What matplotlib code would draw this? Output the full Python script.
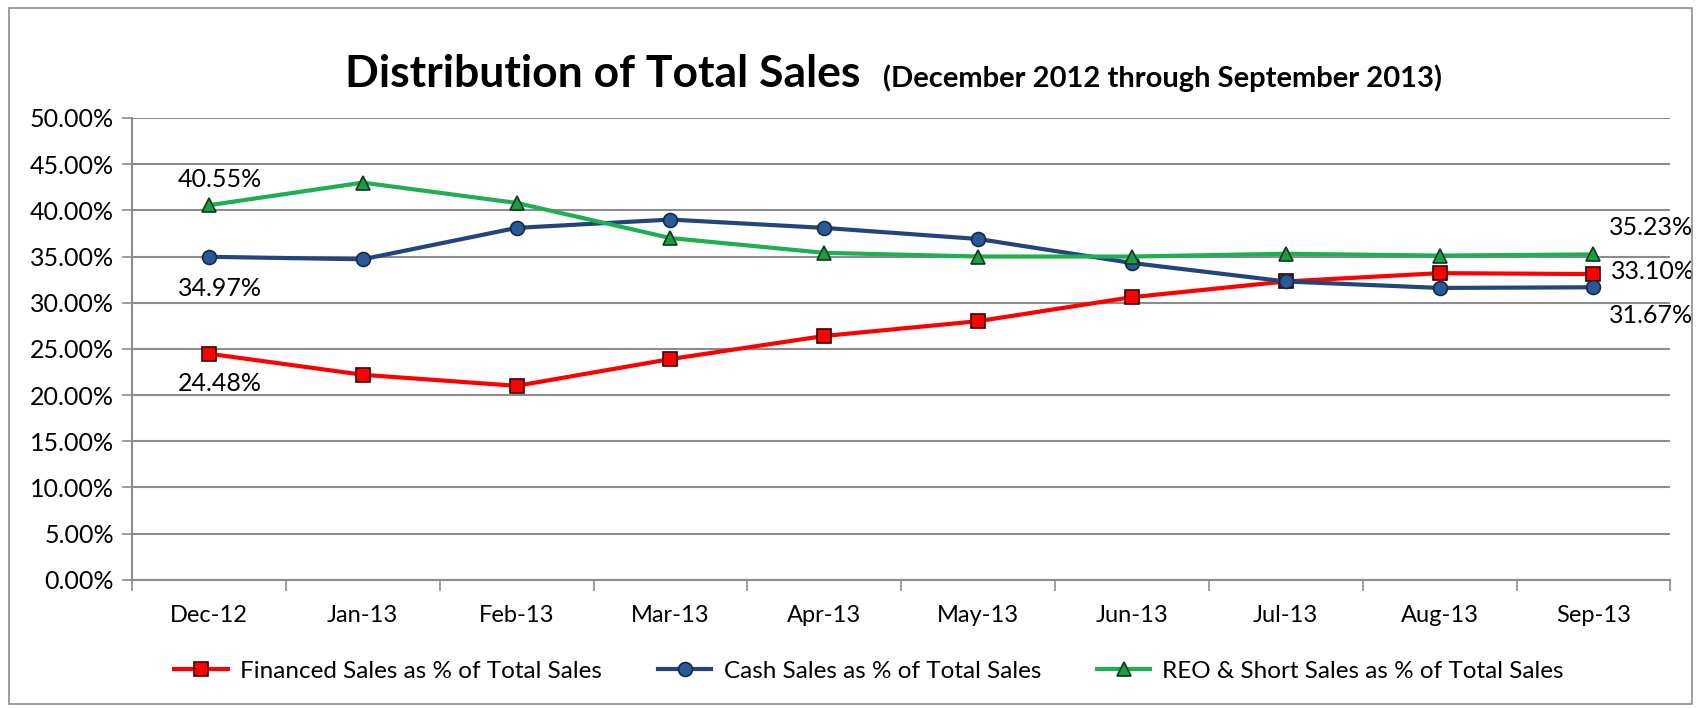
import matplotlib
matplotlib.use("Agg")
import matplotlib.pyplot as plt
from matplotlib.patches import Rectangle
from matplotlib.ticker import FuncFormatter, MultipleLocator

plt.rcParams['font.family'] = ['Lato', 'DejaVu Sans']

# Data
months = ['Dec-12', 'Jan-13', 'Feb-13', 'Mar-13', 'Apr-13', 'May-13',
          'Jun-13', 'Jul-13', 'Aug-13', 'Sep-13']
financed = [24.48, 22.2, 21.0, 23.9, 26.4, 28.0, 30.6, 32.3, 33.2, 33.10]
cash = [34.97, 34.7, 38.1, 39.0, 38.1, 36.9, 34.3, 32.3, 31.6, 31.67]
reo = [40.55, 43.0, 40.8, 37.0, 35.4, 35.0, 35.0, 35.3, 35.1, 35.23]

fig = plt.figure(figsize=(17.01, 7.08), dpi=100)
ax = fig.add_axes([0.0776, 0.181, 0.9044, 0.6524])

x = range(len(months))
ax.plot(x, financed, color='#FF0000', lw=3, marker='s', ms=10,
        mfc='#FF0000', mec='#3a0000', mew=1.2, label='Financed Sales as % of Total Sales', zorder=3)
ax.plot(x, cash, color='#22457C', lw=3, marker='o', ms=10,
        mfc='#2A5A96', mec='#14284a', mew=1.2, label='Cash Sales as % of Total Sales', zorder=4)
ax.plot(x, reo, color='#1DB050', lw=3, marker='^', ms=10,
        mfc='#1E9B45', mec='#0d3a1a', mew=1.2, label='REO & Short Sales as % of Total Sales', zorder=5)

ax.set_xlim(-0.5, len(months) - 0.5)
ax.set_ylim(0, 50)
ax.yaxis.set_major_locator(MultipleLocator(5))
ax.yaxis.set_major_formatter(FuncFormatter(lambda v, p: f'{v:.2f}%'))
ax.set_xticks(list(x))
ax.set_xticklabels(months)
ax.set_xticks([i - 0.5 for i in range(len(months) + 1)], minor=True)
ax.tick_params(axis='x', which='major', length=0, pad=18, labelsize=17)
ax.tick_params(axis='x', which='minor', length=8, color='#8c8c8c', width=1.2)
ax.tick_params(axis='y', length=7, color='#8c8c8c', width=1.2, labelsize=18, pad=6)
ax.grid(axis='y', color='#8c8c8c', lw=1.5)
ax.set_axisbelow(True)
for s in ['top', 'right']:
    ax.spines[s].set_visible(False)
for s in ['left', 'bottom']:
    ax.spines[s].set_color('#8c8c8c')
    ax.spines[s].set_linewidth(1.5)

# data labels on first and last points
lab = dict(textcoords='offset pixels', fontsize=18, va='center', ha='center')
ax.annotate(f'{reo[0]:.2f}%', (0, reo[0]), xytext=(11, 26), **lab)
ax.annotate(f'{cash[0]:.2f}%', (0, cash[0]), xytext=(11, -32), **lab)
ax.annotate(f'{financed[0]:.2f}%', (0, financed[0]), xytext=(11, -30), **lab)
ax.annotate(f'{reo[-1]:.2f}%', (9, reo[-1]), xytext=(58, 27), **lab)
ax.annotate(f'{financed[-1]:.2f}%', (9, financed[-1]), xytext=(60, 3), **lab)
ax.annotate(f'{cash[-1]:.2f}%', (9, cash[-1]), xytext=(58, -28), **lab)

fig.text(0.203, 0.877, 'Distribution of Total Sales', fontsize=32,
         fontweight='bold', va='baseline', ha='left')
fig.text(0.848, 0.877, '(December 2012 through September 2013)', fontsize=21,
         fontweight='bold', va='baseline', ha='right')

fig.legend(loc='center', bbox_to_anchor=(0.511, 0.052), ncol=3, frameon=False,
           fontsize=17.5, handlelength=2.2, columnspacing=2.3, handletextpad=0.5)

fig.patches.append(Rectangle((0.005, 0.006), 0.99, 0.982, transform=fig.transFigure,
                             fill=False, edgecolor='#8c8c8c', lw=1.2))

plt.savefig('out.png', dpi=100)
